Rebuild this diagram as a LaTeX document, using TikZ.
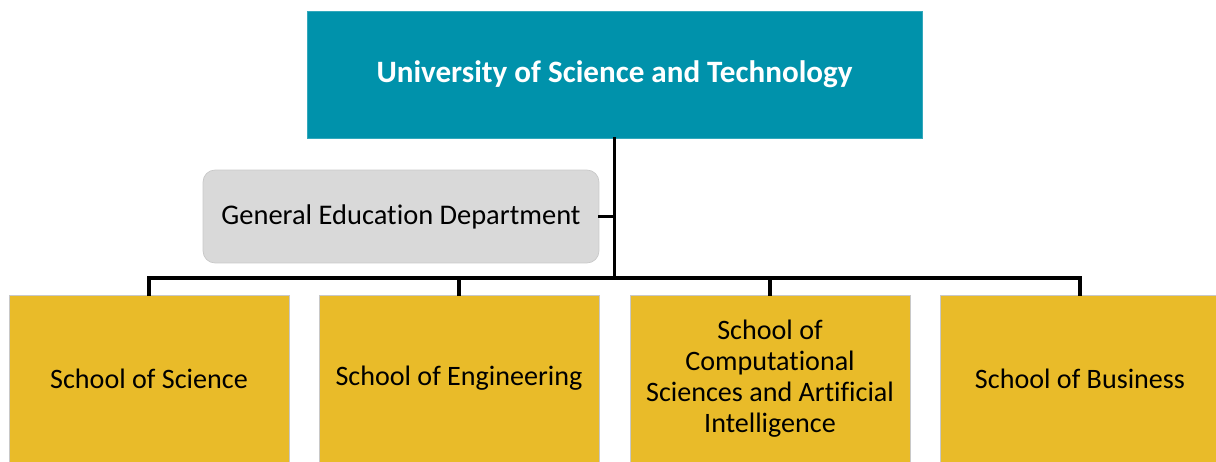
\documentclass[tikz,border=0pt]{standalone}
\usepackage{fontspec}
\setmainfont{Carlito}[Ligatures=CommonOff]
\usetikzlibrary{positioning}
\definecolor{uniTeal}{RGB}{0,146,171}
\definecolor{schoolGold}{RGB}{233,187,41}
\definecolor{deptGrey}{RGB}{217,217,217}
\definecolor{edgeGrey}{RGB}{200,200,200}

\begin{document}
\begin{tikzpicture}[x=0.02cm,y=-0.02cm,
  unibox/.style={fill=uniTeal,draw=uniTeal!80,line width=0.4pt,minimum width=12.3cm,minimum height=2.54cm,text=white,font=\fontsize{17.7}{21}\selectfont\bfseries},
  deptbox/.style={fill=deptGrey,draw=edgeGrey,line width=0.4pt,rounded corners=0.24cm,minimum width=7.92cm,minimum height=1.86cm,font=\fontsize{16.2}{19}\selectfont},
  schoolbox/.style={fill=schoolGold,draw=edgeGrey,line width=0.4pt,minimum width=5.6cm,minimum height=3.34cm,align=center,font=\fontsize{16}{17.6}\selectfont},
  link/.style={line width=1.8pt,line cap=rect}]
\useasboundingbox (0,0) rectangle (1216,462);
% boxes
\node[unibox] (uni) at (614.5,74.5) {University of Science and Technology};
\node[deptbox] (gened) at (401,216.5) {General Education Department};
\node[schoolbox] (science) at (149,378.5) {School of Science};
\node[schoolbox] (engineering) at (459,378.5) {School of Engineering};
\node[schoolbox] (compsci) at (770,378.5) {School of\\Computational\\Sciences and Artificial\\Intelligence};
\node[schoolbox] (business) at (1080,378.5) {School of Business};
% connectors
\coordinate (busL) at (149,278);
\coordinate (busM) at (uni.south |- busL);
\draw[link] (uni.south) -- (busM);
\draw[link] (gened.east) -- (gened.east -| uni.south);
\draw[link] (science.north |- busL) -- (business.north |- busL);
\foreach \s in {science,engineering,compsci,business}
  \draw[link] (\s.north |- busL) -- (\s.north);
\end{tikzpicture}
\end{document}
